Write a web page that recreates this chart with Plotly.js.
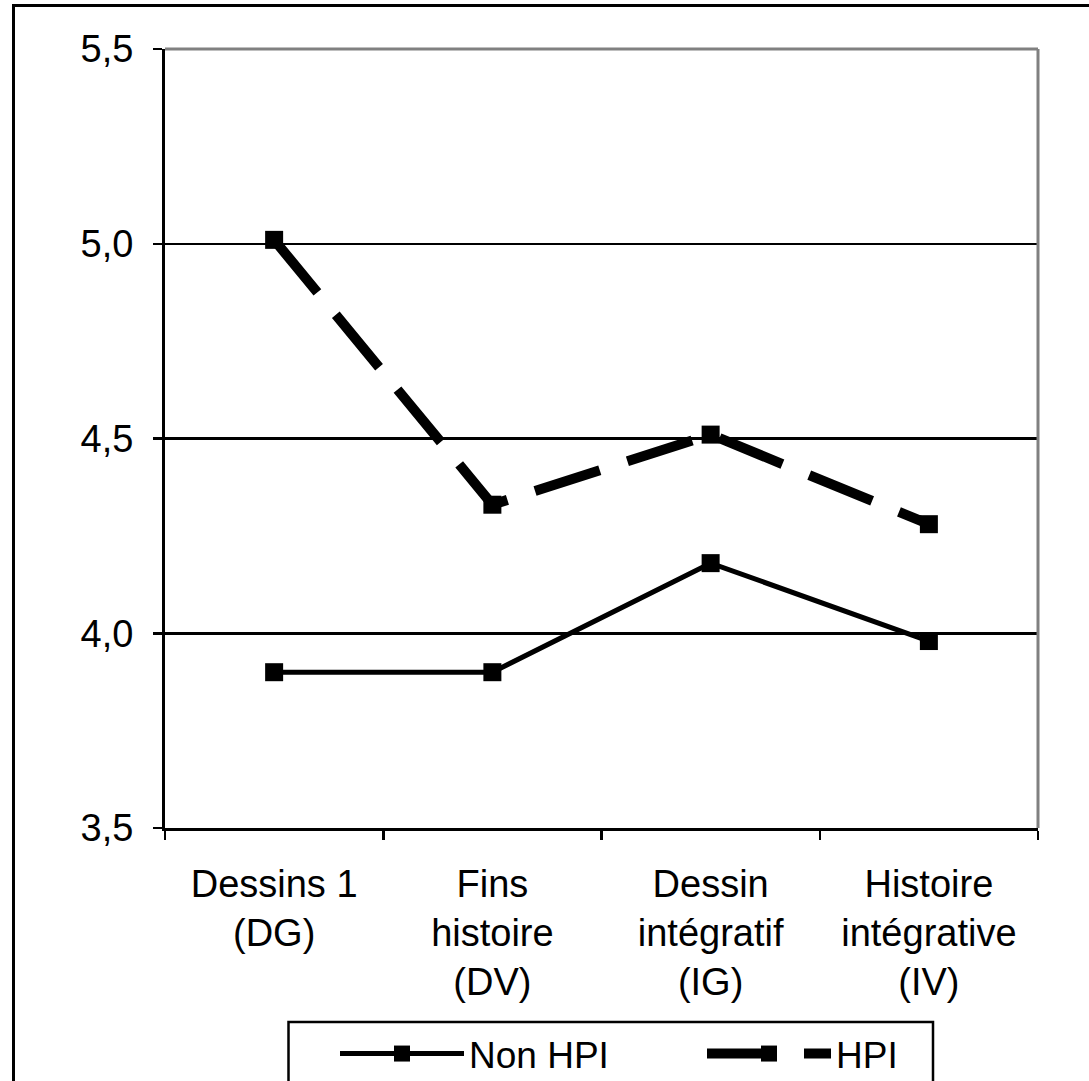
<!DOCTYPE html>
<html>
<head>
<meta charset="utf-8">
<script src="https://cdn.plot.ly/plotly-3.0.1.min.js"></script>
<style>html,body{margin:0;padding:0;background:#fff;}#chart{width:1089px;height:1081px;}</style>
</head>
<body>
<div id="chart"></div>
<script>
const categories = ["Dessins 1<br>(DG)", "Fins<br>histoire<br>(DV)", "Dessin<br>intégratif<br>(IG)", "Histoire<br>intégrative<br>(IV)"];
const nonHpiValues = [3.90, 3.90, 4.18, 3.98];
const hpiValues = [5.01, 4.33, 4.51, 4.28];
const yTickValues = [3.5, 4.0, 4.5, 5.0, 5.5];
const seriesNames = ["Non HPI", "HPI"];

const FONT = "'Liberation Sans', Arial, sans-serif";

const traces = [
  {
    x: categories, y: nonHpiValues, name: seriesNames[0], type: "scatter", mode: "lines+markers",
    line: {color: "#000", width: 5},
    marker: {symbol: "square", size: 18, color: "#000"}
  },
  {
    x: categories, y: hpiValues, name: seriesNames[1], type: "scatter", mode: "lines+markers",
    line: {color: "#000", width: 10, dash: "68px,29px"},
    marker: {symbol: "square", size: 18, color: "#000"}
  }
];

const W = 873, H = 779;
function px(x) { return (x - 165) / W; }
function py(y) { return (828 - y) / H; }

const layout = {
  width: 1089, height: 1081,
  margin: {l: 165, r: 51, t: 49, b: 253, autoexpand: false},
  paper_bgcolor: "#fff", plot_bgcolor: "#fff",
  separators: ", ",
  font: {family: FONT, size: 38, color: "#000"},
  showlegend: true,
  xaxis: {
    type: "category", range: [-0.5, 3.5], tickson: "boundaries",
    ticks: "outside", ticklen: 9, tickwidth: 2.5, tickcolor: "#000",
    showline: true, linecolor: "#000", linewidth: 3,
    showgrid: false, zeroline: false,
    tickfont: {family: FONT, size: 38, color: "#000"},
    ticklabelstandoff: 20
  },
  yaxis: {
    range: [3.5, 5.5], tickvals: yTickValues, tickformat: ".1f",
    ticks: "outside", ticklen: 9, tickwidth: 2.5, tickcolor: "#000",
    showline: true, linecolor: "#000", linewidth: 3,
    showgrid: true, gridcolor: "#000", gridwidth: 2.5, zeroline: false,
    tickfont: {family: FONT, size: 38, color: "#000"},
    ticklabelstandoff: 12
  },
  legend: {
    orientation: "h", x: px(335), xanchor: "left", y: py(1023), yanchor: "top",
    borderwidth: 0, bgcolor: "rgba(0,0,0,0)",
    font: {family: FONT, size: 37, color: "#000"},
    itemwidth: 124, entrywidth: 228, entrywidthmode: "pixels",
    traceorder: "normal"
  },
  shapes: [
    {type: "line", xref: "paper", yref: "paper", x0: 0, x1: 1, y0: 1, y1: 1, line: {color: "#808080", width: 3}, layer: "above"},
    {type: "line", xref: "paper", yref: "paper", x0: 1, x1: 1, y0: 0, y1: 1, line: {color: "#808080", width: 3}, layer: "above"},
    {type: "rect", xref: "paper", yref: "paper", x0: px(13.5), x1: px(1100), y0: py(1100), y1: py(5.5), line: {color: "#000", width: 3}, fillcolor: "rgba(0,0,0,0)", layer: "above"},
    {type: "rect", xref: "paper", yref: "paper", x0: px(288.5), x1: px(933), y0: py(1100), y1: py(1022), line: {color: "#000", width: 2.5}, fillcolor: "rgba(0,0,0,0)", layer: "above"}
  ]
};

Plotly.newPlot("chart", traces, layout, {displayModeBar: false, staticPlot: true});
</script>
</body>
</html>
